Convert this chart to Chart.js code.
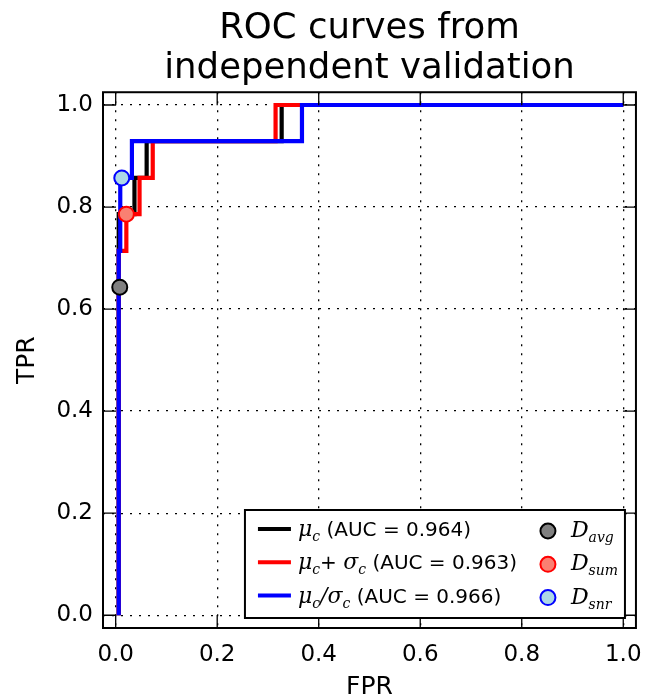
<!DOCTYPE html>
<html>
<head>
<meta charset="utf-8">
<script src="https://cdn.jsdelivr.net/npm/chart.js@4.4.0/dist/chart.umd.min.js"></script>
<style>
  html, body { margin: 0; padding: 0; background: #fff; }
</style>
</head>
<body>
<canvas id="rocChart" width="655" height="700"></canvas>
<script>
// ROC curve corner points (FPR, TPR)
const fprMean = [0.006, 0.006, 0.037, 0.037, 0.061, 0.061, 0.327, 0.327, 1.0];
const tprMean = [0.0, 0.786, 0.786, 0.857, 0.857, 0.929, 0.929, 1.0, 1.0];

const fprSum = [0.006, 0.006, 0.021, 0.021, 0.047, 0.047, 0.073, 0.073, 0.315, 0.315, 1.0];
const tprSum = [0.0, 0.714, 0.714, 0.786, 0.786, 0.857, 0.857, 0.929, 0.929, 1.0, 1.0];

const fprSnr = [0.006, 0.006, 0.009, 0.009, 0.032, 0.032, 0.367, 0.367, 1.0];
const tprSnr = [0.0, 0.714, 0.714, 0.857, 0.857, 0.929, 0.929, 1.0, 1.0];

// operating points D_avg, D_sum, D_snr
const markerFpr = [0.008, 0.021, 0.012];
const markerTpr = [0.643, 0.786, 0.857];

const aucValues = ['0.964', '0.963', '0.966'];
const tickValues = [0.0, 0.2, 0.4, 0.6, 0.8, 1.0];

const lineColors = ['#000000', '#ff0000', '#0000ff'];
const markerFill = ['#808080', '#fa8072', '#add8e6'];

function toPoints(xs, ys) {
  return xs.map((x, i) => ({ x: x, y: ys[i] }));
}

const mathFont = 'italic 22px "DejaVu Serif"';
const subFont = 'italic 14px "DejaVu Serif"';
const textFont = '20px "DejaVu Sans"';

// draws a run of mixed math/text pieces, returns end x
function drawRun(ctx, x, y, parts) {
  ctx.textBaseline = 'alphabetic';
  ctx.textAlign = 'left';
  parts.forEach(p => {
    const [txt, kind] = p;
    if (kind === 'm') ctx.font = mathFont;
    else if (kind === 's') ctx.font = subFont;
    else ctx.font = textFont;
    const yy = kind === 's' ? y + 5 : y;
    ctx.fillText(txt, x, yy);
    x += ctx.measureText(txt).width;
  });
  return x;
}

const framePlugin = {
  id: 'frame',
  afterDatasetsDraw(chart) {
    const ctx = chart.ctx;
    const a = chart.chartArea;
    const xs = chart.scales.x, ys = chart.scales.y;
    ctx.save();
    // inward ticks on all four sides
    ctx.strokeStyle = '#000';
    ctx.lineWidth = 1.3;
    ctx.beginPath();
    tickValues.forEach(v => {
      const px = xs.getPixelForValue(v);
      ctx.moveTo(px, a.bottom); ctx.lineTo(px, a.bottom - 13);
      ctx.moveTo(px, a.top); ctx.lineTo(px, a.top + 13);
      const py = ys.getPixelForValue(v);
      ctx.moveTo(a.left, py); ctx.lineTo(a.left + 13, py);
      ctx.moveTo(a.right, py); ctx.lineTo(a.right - 13, py);
    });
    ctx.stroke();

    // legend box
    const bx = a.right - 391, by = a.bottom - 118, bw = 380, bh = 108;
    ctx.fillStyle = '#fff';
    ctx.fillRect(bx, by, bw, bh);
    ctx.lineWidth = 2;
    ctx.strokeRect(bx, by, bw, bh);

    const rows = [
      [['μ', 'm'], ['c', 's'], [' (AUC = ' + aucValues[0] + ')', 't']],
      [['μ', 'm'], ['c', 's'], ['+ ', 't'], ['σ', 'm'], ['c', 's'], [' (AUC = ' + aucValues[1] + ')', 't']],
      [['μ', 'm'], ['c', 's'], ['/', 'm'], ['σ', 'm'], ['c', 's'], [' (AUC = ' + aucValues[2] + ')', 't']]
    ];
    const subs = ['avg', 'sum', 'snr'];
    for (let i = 0; i < 3; i++) {
      const ry = by + 19 + i * 33.3;
      ctx.strokeStyle = lineColors[i];
      ctx.lineWidth = 4;
      ctx.beginPath();
      ctx.moveTo(bx + 13, ry); ctx.lineTo(bx + 46, ry);
      ctx.stroke();
      ctx.fillStyle = '#000';
      drawRun(ctx, bx + 53, ry + 7, rows[i]);

      ctx.beginPath();
      ctx.arc(bx + 303, ry + 2, 7.5, 0, Math.PI * 2);
      ctx.fillStyle = markerFill[i];
      ctx.fill();
      ctx.lineWidth = 2;
      ctx.strokeStyle = lineColors[i];
      ctx.stroke();

      ctx.fillStyle = '#000';
      drawRun(ctx, bx + 326, ry + 8, [['D', 'm'], [subs[i], 's']]);
    }

    // axes frame
    ctx.strokeStyle = '#000';
    ctx.lineWidth = 2;
    ctx.strokeRect(a.left, a.top, a.right - a.left, a.bottom - a.top);
    ctx.restore();
  }
};

function lineSet(xs, ys, color, order) {
  return {
    type: 'line',
    data: toPoints(xs, ys),
    borderColor: color,
    backgroundColor: color,
    borderWidth: 4.2,
    pointRadius: 0,
    fill: false,
    tension: 0,
    order: order
  };
}

const gridStyle = {
  color: '#000',
  lineWidth: 1.3,
  drawTicks: false
};

window.onload = () => {
  const ctx = document.getElementById('rocChart').getContext('2d');
  new Chart(ctx, {
    type: 'scatter',
    data: {
      datasets: [
        {
          type: 'scatter',
          data: toPoints(markerFpr, markerTpr),
          pointRadius: 7.5,
          pointHoverRadius: 7.5,
          pointBackgroundColor: markerFill,
          pointBorderColor: lineColors,
          pointBorderWidth: 2,
          order: 0
        },
        lineSet(fprSnr, tprSnr, lineColors[2], 1),
        lineSet(fprSum, tprSum, lineColors[1], 2),
        lineSet(fprMean, tprMean, lineColors[0], 3)
      ]
    },
    options: {
      responsive: false,
      animation: false,
      devicePixelRatio: 1,
      layout: { padding: { left: 0, right: 17, top: 0, bottom: 0 } },
      plugins: {
        legend: { display: false },
        tooltip: { enabled: false },
        title: {
          display: true,
          fullSize: false,
          text: ['ROC curves from', 'independent validation'],
          color: '#000',
          font: { family: 'DejaVu Sans', size: 35.5, weight: 'normal', lineHeight: 1.13 },
          padding: { top: 9, bottom: 3 }
        }
      },
      scales: {
        x: {
          type: 'linear',
          min: -0.025,
          max: 1.025,
          afterBuildTicks: s => { s.ticks = tickValues.map(v => ({ value: v })); },
          afterFit: s => { s.height = 72; },
          ticks: {
            color: '#000',
            padding: 13,
            font: { family: 'DejaVu Sans', size: 23 },
            callback: v => v.toFixed(1)
          },
          grid: gridStyle,
          border: { display: false, dash: [2, 7] },
          title: {
            display: true,
            text: 'FPR',
            color: '#000',
            font: { family: 'DejaVu Sans', size: 25, lineHeight: 1.0 },
            padding: { top: 0, bottom: 0 }
          }
        },
        y: {
          type: 'linear',
          min: -0.025,
          max: 1.025,
          afterBuildTicks: s => { s.ticks = tickValues.map(v => ({ value: v })); },
          afterFit: s => { s.width = 103; },
          ticks: {
            color: '#000',
            padding: 10,
            font: { family: 'DejaVu Sans', size: 23 },
            callback: v => v.toFixed(1)
          },
          grid: gridStyle,
          border: { display: false, dash: [2, 7] },
          title: {
            display: true,
            text: 'TPR',
            color: '#000',
            font: { family: 'DejaVu Sans', size: 25, lineHeight: 1.2 },
            padding: { top: 12, bottom: 0 }
          }
        }
      }
    },
    plugins: [framePlugin]
  });
};
</script>
</body>
</html>
